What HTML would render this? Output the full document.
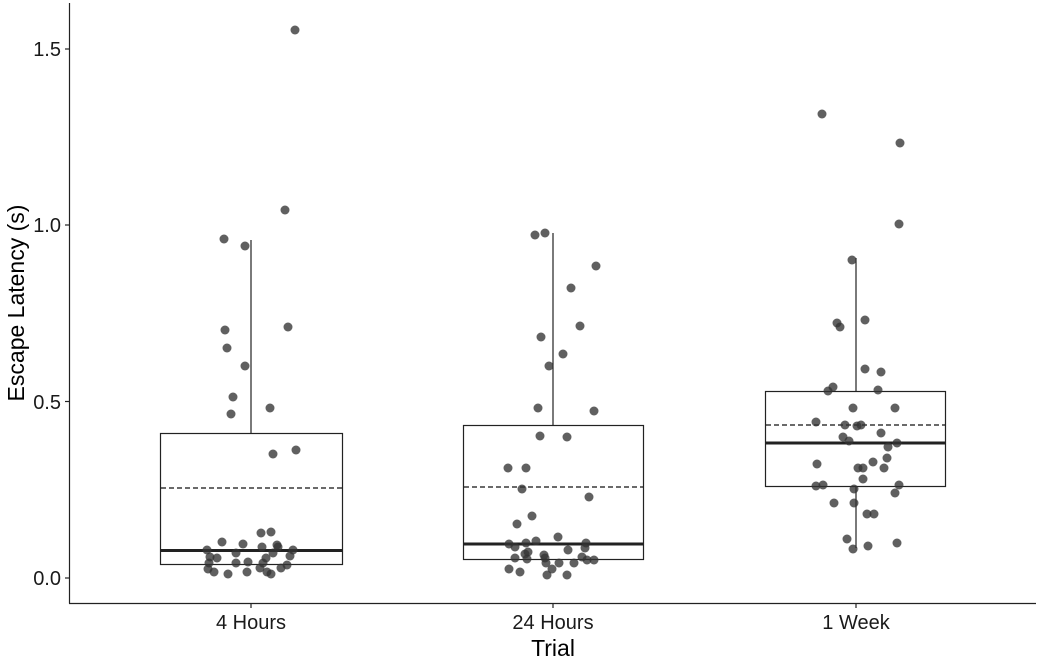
<!DOCTYPE html>
<html><head><style>body{margin:0;background:#fff}svg{display:block}</style></head><body>
<svg width="1040" height="661" xmlns="http://www.w3.org/2000/svg" font-family="Liberation Sans, sans-serif">
<rect width="1040" height="661" fill="#fff"/>
<g stroke="#222" fill="none" stroke-width="1.2">
<line x1="69.5" y1="3" x2="69.5" y2="603.5"/>
<line x1="69" y1="603.5" x2="1036" y2="603.5"/>
<line x1="65" y1="578" x2="69" y2="578"/><line x1="65" y1="401.5" x2="69" y2="401.5"/><line x1="65" y1="225" x2="69" y2="225"/><line x1="65" y1="49" x2="69" y2="49"/>
<line x1="251" y1="604" x2="251" y2="608"/><line x1="553" y1="604" x2="553" y2="608"/><line x1="856" y1="604" x2="856" y2="608"/>
<line x1="251" y1="240" x2="251" y2="433"/>
<rect x="160.5" y="433.5" width="182" height="131"/>
<line x1="161" y1="488" x2="342" y2="488" stroke-dasharray="5,3" stroke="#111"/>
<line x1="161" y1="550.5" x2="342" y2="550.5" stroke-width="3"/>
<line x1="553" y1="233" x2="553" y2="425"/>
<rect x="463.5" y="425.5" width="180" height="134"/>
<line x1="464" y1="487" x2="643" y2="487" stroke-dasharray="5,3" stroke="#111"/>
<line x1="464" y1="544" x2="643" y2="544" stroke-width="3"/>
<line x1="856" y1="258" x2="856" y2="391"/><line x1="856" y1="486" x2="856" y2="548"/>
<rect x="765.5" y="391.5" width="180" height="95"/>
<line x1="766" y1="425" x2="945" y2="425" stroke-dasharray="5,3" stroke="#111"/>
<line x1="766" y1="443" x2="945" y2="443" stroke-width="3"/>
</g>
<g fill="#333" fill-opacity="0.78">
<circle cx="273" cy="454" r="4.5"/><circle cx="296" cy="450" r="4.5"/><circle cx="222" cy="542" r="4.5"/><circle cx="243" cy="544" r="4.5"/><circle cx="261" cy="533" r="4.5"/><circle cx="271" cy="532" r="4.5"/><circle cx="207" cy="550" r="4.5"/><circle cx="210" cy="557" r="4.5"/><circle cx="217" cy="558" r="4.5"/><circle cx="236" cy="553" r="4.5"/><circle cx="262" cy="547" r="4.5"/><circle cx="277" cy="545" r="4.5"/><circle cx="278" cy="547" r="4.5"/><circle cx="273" cy="553" r="4.5"/><circle cx="293" cy="550" r="4.5"/><circle cx="290" cy="556" r="4.5"/><circle cx="266" cy="558" r="4.5"/><circle cx="209" cy="563" r="4.5"/><circle cx="236" cy="563" r="4.5"/><circle cx="248" cy="562" r="4.5"/><circle cx="263" cy="563" r="4.5"/><circle cx="208" cy="569" r="4.5"/><circle cx="214" cy="572" r="4.5"/><circle cx="228" cy="574" r="4.5"/><circle cx="247" cy="572" r="4.5"/><circle cx="260" cy="568" r="4.5"/><circle cx="267" cy="572" r="4.5"/><circle cx="271" cy="574" r="4.5"/><circle cx="281" cy="568" r="4.5"/><circle cx="287" cy="565" r="4.5"/>
<circle cx="224" cy="239" r="4.5"/><circle cx="245" cy="246" r="4.5"/><circle cx="225" cy="330" r="4.5"/><circle cx="227" cy="348" r="4.5"/><circle cx="245" cy="366" r="4.5"/><circle cx="233" cy="397" r="4.5"/><circle cx="231" cy="414" r="4.5"/><circle cx="270" cy="408" r="4.5"/><circle cx="285" cy="210" r="4.5"/><circle cx="288" cy="327" r="4.5"/><circle cx="295" cy="30" r="4.5"/>
<circle cx="567" cy="437" r="4.5"/><circle cx="508" cy="468" r="4.5"/><circle cx="526" cy="468" r="4.5"/><circle cx="522" cy="489" r="4.5"/><circle cx="589" cy="497" r="4.5"/><circle cx="532" cy="516" r="4.5"/><circle cx="517" cy="524" r="4.5"/><circle cx="558" cy="537" r="4.5"/><circle cx="509" cy="544" r="4.5"/><circle cx="515" cy="547" r="4.5"/><circle cx="526" cy="543" r="4.5"/><circle cx="536" cy="541" r="4.5"/><circle cx="586" cy="543" r="4.5"/><circle cx="585" cy="548" r="4.5"/><circle cx="568" cy="550" r="4.5"/><circle cx="528" cy="552" r="4.5"/><circle cx="525" cy="554" r="4.5"/><circle cx="515" cy="558" r="4.5"/><circle cx="527" cy="559" r="4.5"/><circle cx="544" cy="555" r="4.5"/><circle cx="545" cy="558" r="4.5"/><circle cx="546" cy="563" r="4.5"/><circle cx="559" cy="563" r="4.5"/><circle cx="574" cy="563" r="4.5"/><circle cx="582" cy="557" r="4.5"/><circle cx="587" cy="560" r="4.5"/><circle cx="594" cy="560" r="4.5"/><circle cx="509" cy="569" r="4.5"/><circle cx="520" cy="572" r="4.5"/><circle cx="552" cy="569" r="4.5"/><circle cx="547" cy="575" r="4.5"/><circle cx="567" cy="575" r="4.5"/>
<circle cx="535" cy="235" r="4.5"/><circle cx="545" cy="233" r="4.5"/><circle cx="596" cy="266" r="4.5"/><circle cx="571" cy="288" r="4.5"/><circle cx="541" cy="337" r="4.5"/><circle cx="580" cy="326" r="4.5"/><circle cx="549" cy="366" r="4.5"/><circle cx="538" cy="408" r="4.5"/><circle cx="563" cy="354" r="4.5"/><circle cx="540" cy="436" r="4.5"/><circle cx="594" cy="411" r="4.5"/>
<circle cx="837" cy="323" r="4.5"/><circle cx="840" cy="327" r="4.5"/><circle cx="865" cy="320" r="4.5"/><circle cx="865" cy="369" r="4.5"/><circle cx="881" cy="372" r="4.5"/><circle cx="833" cy="387" r="4.5"/><circle cx="828" cy="391" r="4.5"/><circle cx="878" cy="390" r="4.5"/><circle cx="853" cy="408" r="4.5"/><circle cx="895" cy="408" r="4.5"/><circle cx="816" cy="422" r="4.5"/><circle cx="845" cy="425" r="4.5"/><circle cx="857" cy="426" r="4.5"/><circle cx="861" cy="425" r="4.5"/><circle cx="881" cy="433" r="4.5"/><circle cx="843" cy="437" r="4.5"/><circle cx="849" cy="441" r="4.5"/><circle cx="888" cy="447" r="4.5"/><circle cx="897" cy="443" r="4.5"/><circle cx="887" cy="458" r="4.5"/><circle cx="873" cy="462" r="4.5"/><circle cx="817" cy="464" r="4.5"/><circle cx="858" cy="468" r="4.5"/><circle cx="863" cy="468" r="4.5"/><circle cx="884" cy="468" r="4.5"/><circle cx="863" cy="479" r="4.5"/><circle cx="816" cy="486" r="4.5"/><circle cx="823" cy="485" r="4.5"/><circle cx="899" cy="485" r="4.5"/><circle cx="895" cy="493" r="4.5"/><circle cx="854" cy="489" r="4.5"/><circle cx="834" cy="503" r="4.5"/><circle cx="854" cy="503" r="4.5"/><circle cx="867" cy="514" r="4.5"/><circle cx="874" cy="514" r="4.5"/><circle cx="847" cy="539" r="4.5"/><circle cx="853" cy="549" r="4.5"/><circle cx="868" cy="546" r="4.5"/><circle cx="897" cy="543" r="4.5"/>
<circle cx="822" cy="114" r="4.5"/><circle cx="900" cy="143" r="4.5"/><circle cx="899" cy="224" r="4.5"/><circle cx="852" cy="260" r="4.5"/>
</g>
<g font-size="20" fill="#1a1a1a" text-anchor="end">
<text x="61" y="585">0.0</text><text x="61" y="409">0.5</text><text x="61" y="232">1.0</text><text x="61" y="56">1.5</text>
</g>
<g font-size="20" fill="#1a1a1a" text-anchor="middle">
<text x="251" y="629">4 Hours</text><text x="553" y="629">24 Hours</text><text x="856" y="629">1 Week</text>
</g>
<text x="553" y="656" font-size="23" text-anchor="middle" fill="#000">Trial</text>
<text transform="translate(24,303) rotate(-90)" font-size="23" text-anchor="middle" fill="#000">Escape Latency (s)</text>
</svg>
</body></html>
